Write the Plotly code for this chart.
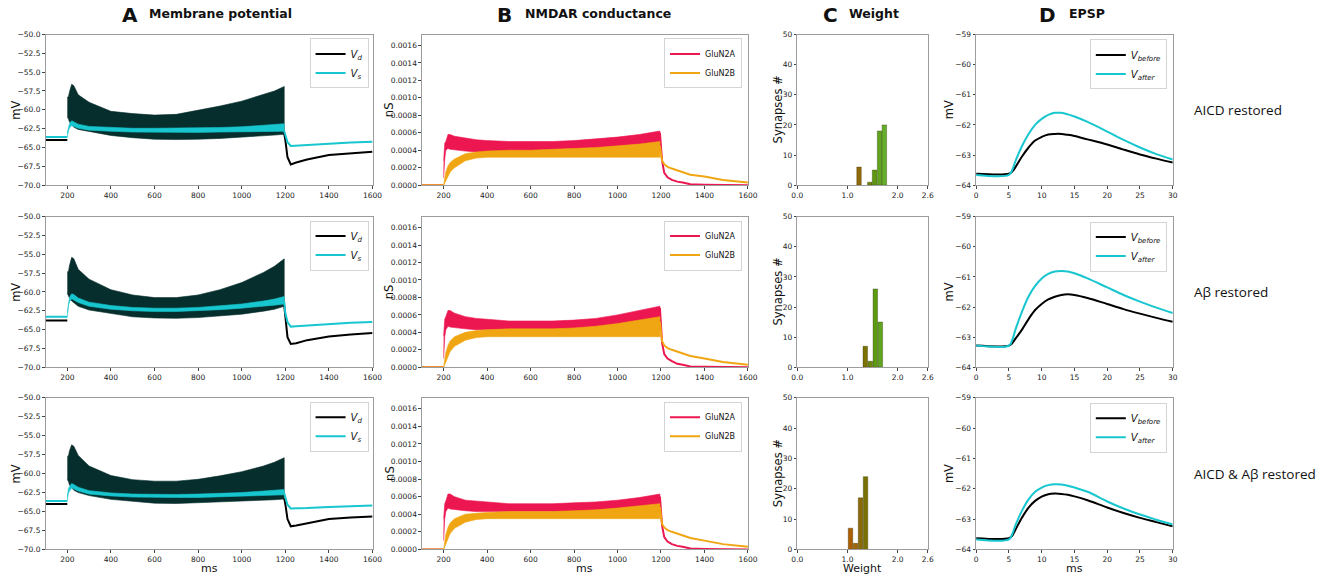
import plotly.graph_objects as go

W, H = 1325, 580

# ---------------- Panel A : membrane potential (mV) ----------------
a_t_pre = [100, 200]
a_t_env = [200, 205, 210, 220, 230, 250, 300, 400, 500, 600, 700, 800, 900, 1000, 1100, 1150, 1195]
a_t_post = [1195, 1200, 1210, 1225, 1250, 1300, 1400, 1500, 1600]

vd_pre_1 = [-64.0, -64.0]
vs_pre_1 = [-63.6, -63.6]
vd_up_1 = [-58.3, -58.3, -57.6, -56.6, -56.8, -58.0, -59.0, -60.2, -60.5, -60.7, -60.6, -60.1, -59.5, -58.85, -58.0, -57.5, -56.9]
vd_lo_1 = [-61.0, -61.2, -61.6, -62.0, -62.3, -62.6, -62.9, -63.4, -63.7, -63.9, -63.95, -63.9, -63.8, -63.65, -63.45, -63.35, -63.25]
vs_up_1 = [-63.0, -62.2, -61.8, -61.45, -61.6, -61.9, -62.2, -62.35, -62.45, -62.45, -62.45, -62.4, -62.35, -62.25, -62.05, -61.95, -61.85]
vs_lo_1 = [-63.6, -62.8, -62.4, -62.1, -62.2, -62.45, -62.7, -62.85, -62.95, -63.0, -63.0, -63.0, -62.95, -62.9, -62.85, -62.85, -62.85]
vd_post_1 = [-63.2, -64.0, -66.3, -67.25, -67.0, -66.6, -66.0, -65.75, -65.55]
vs_post_1 = [-62.8, -63.3, -64.3, -64.8, -64.75, -64.65, -64.45, -64.35, -64.25]

vd_pre_2 = [-63.8, -63.8]
vs_pre_2 = [-63.3, -63.3]
vd_up_2 = [-57.3, -57.3, -56.5, -55.4, -55.6, -57.0, -58.3, -59.7, -60.4, -60.75, -60.75, -60.4, -59.7, -58.75, -57.4, -56.6, -55.6]
vd_lo_2 = [-60.2, -60.4, -60.8, -61.2, -61.5, -61.9, -62.4, -62.9, -63.3, -63.45, -63.5, -63.4, -63.2, -62.95, -62.55, -62.3, -61.9]
vs_up_2 = [-62.7, -61.2, -60.7, -60.25, -60.35, -60.8, -61.35, -61.8, -62.05, -62.15, -62.15, -62.05, -61.85, -61.6, -61.2, -60.95, -60.6]
vs_lo_2 = [-63.3, -61.9, -61.3, -60.9, -61.0, -61.4, -61.9, -62.3, -62.5, -62.6, -62.6, -62.5, -62.35, -62.15, -61.9, -61.75, -61.6]
vd_post_2 = [-61.8, -63.5, -66.0, -66.9, -66.8, -66.4, -65.9, -65.65, -65.45]
vs_post_2 = [-61.3, -62.8, -64.0, -64.6, -64.55, -64.45, -64.25, -64.1, -64.0]

vd_pre_3 = [-64.0, -64.0]
vs_pre_3 = [-63.6, -63.6]
vd_up_3 = [-57.7, -57.7, -57.0, -56.2, -56.4, -57.6, -59.0, -60.25, -60.8, -61.0, -61.0, -60.75, -60.3, -59.75, -59.0, -58.5, -57.9]
vd_lo_3 = [-60.8, -61.0, -61.5, -61.9, -62.2, -62.5, -62.9, -63.4, -63.7, -63.9, -63.95, -63.9, -63.8, -63.7, -63.5, -63.45, -63.35]
vs_up_3 = [-63.0, -62.0, -61.7, -61.3, -61.45, -61.8, -62.25, -62.55, -62.7, -62.75, -62.75, -62.7, -62.6, -62.5, -62.3, -62.2, -62.1]
vs_lo_3 = [-63.6, -62.6, -62.3, -61.9, -62.0, -62.3, -62.7, -62.95, -63.1, -63.15, -63.15, -63.15, -63.1, -63.0, -62.9, -62.85, -62.8]
vd_post_3 = [-63.3, -64.0, -66.0, -66.95, -66.85, -66.55, -66.0, -65.8, -65.65]
vs_post_3 = [-62.6, -63.2, -64.1, -64.6, -64.6, -64.55, -64.4, -64.3, -64.2]

# ---------------- Panel B : NMDAR conductance (nS) ----------------
b_t_pre = [100, 200]
b_pre = [0.0, 0.0]
b_t_env = [200, 205, 210, 220, 230, 250, 300, 350, 400, 500, 600, 700, 800, 900, 1000, 1100, 1195]
b_t_post = [1195, 1200, 1205, 1215, 1230, 1250, 1275, 1300, 1335, 1400, 1485, 1600]

n2a_up_1 = [0.00028, 0.00048, 0.0005, 0.00058, 0.00058, 0.00056, 0.00054, 0.00052, 0.00051, 0.0005, 0.0005, 0.0005, 0.00051, 0.00053, 0.00055, 0.00058, 0.00062]
n2a_lo_1 = [0.00008, 0.0003, 0.0004, 0.00042, 0.00041, 0.0004, 0.00039, 0.00038, 0.00038, 0.00038, 0.00038, 0.00038, 0.00038, 0.00038, 0.00038, 0.00038, 0.00038]
n2b_up_1 = [0.0, 0.00008, 0.00015, 0.00022, 0.00026, 0.0003, 0.00036, 0.00038, 0.00039, 0.0004, 0.0004, 0.00041, 0.00042, 0.00043, 0.00045, 0.00047, 0.0005]
n2b_lo_1 = [0.0, 0.00002, 0.00005, 0.0001, 0.00015, 0.0002, 0.00028, 0.00031, 0.00032, 0.00032, 0.00032, 0.00032, 0.00032, 0.00032, 0.00032, 0.00032, 0.00032]
n2a_post_1 = [0.0006, 0.00045, 0.00028, 0.00014, 0.00009, 0.00006, 0.00004, 0.00003, 0.00001, 0.000005, 0.000002, 0.0]
n2b_post_1 = [0.00045, 0.00035, 0.00028, 0.00024, 0.00021, 0.00019, 0.00017, 0.00015, 0.00012, 0.0001, 0.00006, 0.00003]

n2a_up_2 = [0.00036, 0.00055, 0.00058, 0.00065, 0.00065, 0.00062, 0.00058, 0.00056, 0.00055, 0.00053, 0.00053, 0.00053, 0.00054, 0.00056, 0.0006, 0.00065, 0.0007]
n2a_lo_2 = [0.0001, 0.00035, 0.00043, 0.00047, 0.00046, 0.00045, 0.00044, 0.00043, 0.00043, 0.00043, 0.00043, 0.00043, 0.00043, 0.00043, 0.00043, 0.00043, 0.00043]
n2b_up_2 = [0.0, 0.0001, 0.00017, 0.00025, 0.0003, 0.00035, 0.0004, 0.00042, 0.00043, 0.00044, 0.00044, 0.00044, 0.00045, 0.00047, 0.0005, 0.00054, 0.00058]
n2b_lo_2 = [0.0, 0.00003, 0.00006, 0.00012, 0.00018, 0.00024, 0.00031, 0.00034, 0.00035, 0.00035, 0.00035, 0.00035, 0.00035, 0.00035, 0.00035, 0.00035, 0.00035]
n2a_post_2 = [0.00068, 0.0005, 0.00028, 0.00015, 0.0001, 0.00007, 0.00004, 0.00003, 0.00001, 0.000005, 0.000002, 0.0]
n2b_post_2 = [0.00052, 0.00038, 0.0003, 0.00025, 0.00022, 0.0002, 0.00018, 0.00016, 0.00013, 0.0001, 0.00006, 0.00003]

n2a_up_3 = [0.00035, 0.00052, 0.00055, 0.00063, 0.00063, 0.0006, 0.00056, 0.00055, 0.00054, 0.00052, 0.00052, 0.00052, 0.00053, 0.00054, 0.00056, 0.00059, 0.00063]
n2a_lo_3 = [0.0001, 0.00035, 0.00043, 0.00047, 0.00046, 0.00045, 0.00044, 0.00043, 0.00043, 0.00043, 0.00043, 0.00043, 0.00043, 0.00043, 0.00043, 0.00043, 0.00043]
n2b_up_3 = [0.0, 0.0001, 0.00017, 0.00025, 0.0003, 0.00035, 0.0004, 0.00041, 0.00042, 0.00043, 0.00043, 0.00043, 0.00044, 0.00045, 0.00047, 0.0005, 0.00052]
n2b_lo_3 = [0.0, 0.00003, 0.00006, 0.00012, 0.00018, 0.00024, 0.00031, 0.00034, 0.00035, 0.00035, 0.00035, 0.00035, 0.00035, 0.00035, 0.00035, 0.00035, 0.00035]
n2a_post_3 = [0.0006, 0.00045, 0.00027, 0.00014, 0.00009, 0.00006, 0.00004, 0.00003, 0.00001, 0.000005, 0.000002, 0.0]
n2b_post_3 = [0.00048, 0.00036, 0.00029, 0.00025, 0.00022, 0.0002, 0.00018, 0.00016, 0.00013, 0.0001, 0.00006, 0.00003]

# ---------------- Panel C : weight histograms ----------------
w_bins_1 = [1.23, 1.445, 1.54, 1.64, 1.735]
w_counts_1 = [6, 1, 5, 18, 20]
w_bins_2 = [1.355, 1.455, 1.555, 1.655]
w_counts_2 = [7, 2, 26, 15]
w_bins_3 = [1.06, 1.16, 1.26, 1.36]
w_counts_3 = [7, 2, 17, 24]

# ---------------- Panel D : EPSP (mV) ----------------
d_t = [0, 5, 5.5, 6, 7, 8, 9, 10, 11, 12, 13, 14, 15, 17, 20, 22.5, 25, 27.5, 30]
v_before_1 = [-63.62, -63.62, -63.55, -63.4, -63.05, -62.75, -62.52, -62.4, -62.32, -62.3, -62.3, -62.33, -62.37, -62.48, -62.65, -62.82, -62.98, -63.12, -63.25]
v_after_1 = [-63.66, -63.66, -63.5, -63.2, -62.7, -62.3, -62.0, -61.8, -61.67, -61.6, -61.6, -61.65, -61.72, -61.9, -62.22, -62.5, -62.75, -62.97, -63.15]
v_before_2 = [-63.28, -63.28, -63.2, -63.05, -62.75, -62.4, -62.1, -61.9, -61.75, -61.66, -61.6, -61.58, -61.6, -61.7, -61.9, -62.07, -62.22, -62.36, -62.49]
v_after_2 = [-63.28, -63.28, -63.1, -62.75, -62.15, -61.65, -61.3, -61.05, -60.9, -60.82, -60.8, -60.82, -60.88, -61.05, -61.35, -61.6, -61.82, -62.02, -62.2]
v_before_3 = [-63.63, -63.63, -63.55, -63.35, -62.95, -62.62, -62.4, -62.26, -62.18, -62.16, -62.17, -62.2, -62.25, -62.38, -62.62, -62.8, -62.96, -63.1, -63.24]
v_after_3 = [-63.67, -63.67, -63.5, -63.2, -62.72, -62.35, -62.1, -61.96, -61.88, -61.85, -61.86, -61.9, -61.96, -62.1, -62.42, -62.65, -62.85, -63.02, -63.18]

# ---------------- text ----------------
panel_letters = ["A", "B", "C", "D"]
panel_titles = ["Membrane potential", "NMDAR conductance", "Weight", "EPSP"]
row_labels = ["AICD restored", "A\u03b2 restored", "AICD & A\u03b2 restored"]
a_ticks = [-70.0, -67.5, -65.0, -62.5, -60.0, -57.5, -55.0, -52.5, -50.0]
b_ticks = [0.0, 0.0002, 0.0004, 0.0006, 0.0008, 0.001, 0.0012, 0.0014, 0.0016]
c_xticks = [0.0, 1.0, 2.0, 2.6]
c_xtext = ["0.0", "1.0", "2.0", "2.6"]
time_ticks = [200, 400, 600, 800, 1000, 1200, 1400, 1600]

rows_A = [(vd_pre_1, vs_pre_1, vd_up_1, vd_lo_1, vs_up_1, vs_lo_1, vd_post_1, vs_post_1),
          (vd_pre_2, vs_pre_2, vd_up_2, vd_lo_2, vs_up_2, vs_lo_2, vd_post_2, vs_post_2),
          (vd_pre_3, vs_pre_3, vd_up_3, vd_lo_3, vs_up_3, vs_lo_3, vd_post_3, vs_post_3)]
rows_B = [(n2a_up_1, n2a_lo_1, n2b_up_1, n2b_lo_1, n2a_post_1, n2b_post_1),
          (n2a_up_2, n2a_lo_2, n2b_up_2, n2b_lo_2, n2a_post_2, n2b_post_2),
          (n2a_up_3, n2a_lo_3, n2b_up_3, n2b_lo_3, n2a_post_3, n2b_post_3)]
rows_C = [(w_bins_1, w_counts_1), (w_bins_2, w_counts_2), (w_bins_3, w_counts_3)]
rows_D = [(v_before_1, v_after_1), (v_before_2, v_after_2), (v_before_3, v_after_3)]

# ---------------- styling / layout ----------------
C_VD_BAND = "#062e2c"
C_VD = "#000000"
C_CYAN = "#17c6cf"
C_RED = "#ec1650"
C_ORANGE = "#f0a612"
FONT = "DejaVu Sans"

cols_px = [(40, 371), (421, 751), (801, 933), (982, 1181)]
rows_px = [(31, 184), (216, 369), (400, 554)]


def xdom(a, b):
    return [a / W, b / W]


def ydom(a, b):
    return [1 - b / H, 1 - a / H]


fig = go.Figure()
layout = dict(width=W, height=H, margin=dict(l=0, r=0, t=0, b=0),
              paper_bgcolor="white", plot_bgcolor="white", showlegend=True)

axis_common = dict(showline=True, linecolor="#9c9c9c", linewidth=1, mirror=True,
                   ticks="outside", ticklen=2.5, tickwidth=0.8, tickcolor="#444",
                   showgrid=False, zeroline=False,
                   tickfont=dict(family=FONT, size=7.5, color="#222"))

annotations = []
legend_count = 0


def band(x, up, lo):
    return x + x[::-1], up + lo[::-1]


def new_legend(col, r, right, top, size):
    global legend_count
    legend_count += 1
    name = "legend" if legend_count == 1 else "legend%d" % legend_count
    off = rows_px[r][0] - rows_px[0][0]
    layout[name] = dict(x=right / W, y=1 - (top + off) / H, xanchor="right", yanchor="top",
                        bgcolor="rgba(255,255,255,0.9)", bordercolor="#d4d4d4", borderwidth=1,
                        font=dict(family=FONT, size=size, color="#111"),
                        itemwidth=30, tracegroupgap=0)
    return name


for r in range(3):
    for c in range(4):
        k = r * 4 + c + 1
        xa = "x" if k == 1 else "x%d" % k
        ya = "y" if k == 1 else "y%d" % k
        xkey = "xaxis" if k == 1 else "xaxis%d" % k
        ykey = "yaxis" if k == 1 else "yaxis%d" % k
        xd = dict(axis_common, domain=xdom(*cols_px[c]), anchor=ya)
        yd = dict(axis_common, domain=ydom(*rows_px[r]), anchor=xa)

        if c == 0:
            vd_pre, vs_pre, vd_up, vd_lo, vs_up, vs_lo, vd_post, vs_post = rows_A[r]
            lg = new_legend(c, r, 367, 35, 10)
            bx, by = band(a_t_env, vd_up, vd_lo)
            fig.add_trace(go.Scatter(x=bx, y=by, fill="toself", fillcolor=C_VD_BAND, mode="lines",
                                     line=dict(width=0.6, color=C_VD_BAND), showlegend=False,
                                     hoverinfo="skip", xaxis=xa, yaxis=ya))
            bx, by = band(a_t_env, vs_up, vs_lo)
            fig.add_trace(go.Scatter(x=bx, y=by, fill="toself", fillcolor=C_CYAN, mode="lines",
                                     line=dict(width=0.6, color=C_CYAN), showlegend=False,
                                     hoverinfo="skip", xaxis=xa, yaxis=ya))
            fig.add_trace(go.Scatter(x=a_t_pre + [None] + a_t_post, y=vd_pre + [None] + vd_post,
                                     mode="lines", line=dict(color=C_VD, width=2),
                                     name="<i>V<sub>d</sub></i>", legend=lg, xaxis=xa, yaxis=ya))
            fig.add_trace(go.Scatter(x=a_t_pre + [None] + a_t_post, y=vs_pre + [None] + vs_post,
                                     mode="lines", line=dict(color=C_CYAN, width=2),
                                     name="<i>V<sub>s</sub></i>", legend=lg, xaxis=xa, yaxis=ya))
            xd.update(range=[100, 1600.01], tickvals=time_ticks)
            yd.update(range=[-70, -50], tickvals=a_ticks, tickformat=".1f")
        elif c == 1:
            a_up, a_lo, b_up, b_lo, a_post, b_post = rows_B[r]
            lg = new_legend(c, r, 745, 35, 8)
            bx, by = band(b_t_env, a_up, a_lo)
            fig.add_trace(go.Scatter(x=bx, y=by, fill="toself", fillcolor=C_RED, mode="lines",
                                     line=dict(width=0.6, color=C_RED), showlegend=False,
                                     hoverinfo="skip", xaxis=xa, yaxis=ya))
            fig.add_trace(go.Scatter(x=b_t_pre + [None] + b_t_post, y=b_pre + [None] + a_post,
                                     mode="lines", line=dict(color=C_RED, width=2),
                                     name="GluN2A", legend=lg, xaxis=xa, yaxis=ya))
            bx, by = band(b_t_env, b_up, b_lo)
            fig.add_trace(go.Scatter(x=bx, y=by, fill="toself", fillcolor=C_ORANGE, mode="lines",
                                     line=dict(width=0.6, color=C_ORANGE), showlegend=False,
                                     hoverinfo="skip", xaxis=xa, yaxis=ya))
            fig.add_trace(go.Scatter(x=b_t_pre + [None] + b_t_post, y=b_pre + [None] + b_post,
                                     mode="lines", line=dict(color=C_ORANGE, width=2),
                                     name="GluN2B", legend=lg, xaxis=xa, yaxis=ya))
            xd.update(range=[100, 1600.01], tickvals=time_ticks)
            yd.update(range=[0, 0.001725], tickvals=b_ticks, tickformat=".4f")
        elif c == 2:
            bins, counts = rows_C[r]
            fig.add_trace(go.Bar(x=bins, y=counts, width=0.09, showlegend=False,
                                 marker=dict(color=bins, cmin=1.0, cmax=1.8,
                                             colorscale=[[0, "#b45a02"], [0.2, "#a06808"], [0.33, "#8a6a08"],
                                                         [0.45, "#7a7200"], [0.56, "#6e8608"], [0.69, "#5c9a10"],
                                                         [0.82, "#5fa61e"], [1, "#6ab432"]],
                                             line=dict(width=0.6, color="rgba(40,40,0,0.55)")),
                                 xaxis=xa, yaxis=ya))
            xd.update(range=[0, 2.6], tickvals=c_xticks, ticktext=c_xtext)
            yd.update(range=[0, 50], tickvals=[0, 10, 20, 30, 40, 50])
        else:
            vb, va = rows_D[r]
            lg = new_legend(c, r, 1175, 36, 10)
            fig.add_trace(go.Scatter(x=d_t, y=vb, mode="lines", line=dict(color=C_VD, width=2, shape="spline"),
                                     name="<i>V<sub>before</sub></i>", legend=lg, xaxis=xa, yaxis=ya))
            fig.add_trace(go.Scatter(x=d_t, y=va, mode="lines", line=dict(color=C_CYAN, width=2, shape="spline"),
                                     name="<i>V<sub>after</sub></i>", legend=lg, xaxis=xa, yaxis=ya))
            xd.update(range=[0, 30], tickvals=[0, 5, 10, 15, 20, 25, 30])
            yd.update(range=[-64, -59], tickvals=[-64, -63, -62, -61, -60, -59])
        layout[xkey] = xd
        layout[ykey] = yd


def ann(text, x, y, size, xanchor="center", yanchor="middle", angle=0, bold=False, family=FONT):
    annotations.append(dict(text=("<b>%s</b>" % text) if bold else text, x=x / W, y=1 - y / H,
                            xref="paper", yref="paper", showarrow=False, xanchor=xanchor,
                            yanchor=yanchor, textangle=angle,
                            font=dict(family=family, size=size, color="#111")))


# panel titles
title_pos = [(136, 143), (514, 523), (844, 851), (1065, 1074)]
for i in range(4):
    ann(panel_letters[i], title_pos[i][0], 11, 20, xanchor="right", bold=True)
    ann(panel_titles[i], title_pos[i][1], 10, 12.5, xanchor="left", bold=True)

# y-axis titles
ylab = [("mV", 10), ("nS", 388), ("Synapses #", 781), ("mV", 954)]
for r in range(3):
    yc = (rows_px[r][0] + rows_px[r][1]) / 2
    for text, x in ylab:
        ann(text, x, yc, 11.5, angle=-90)
    ann(row_labels[r], 1200, yc, 13.5, xanchor="left", family="Open Sans")

# x-axis titles
for c, text in enumerate(["ms", "ms", "Weight", "ms"]):
    ann(text, (cols_px[c][0] + cols_px[c][1]) / 2, 573, 11)

layout["annotations"] = annotations
fig.update_layout(**layout)
fig.write_html("out.html", config={"displayModeBar": False},
               post_script="document.body.style.margin='0';document.body.style.overflow='hidden';")
